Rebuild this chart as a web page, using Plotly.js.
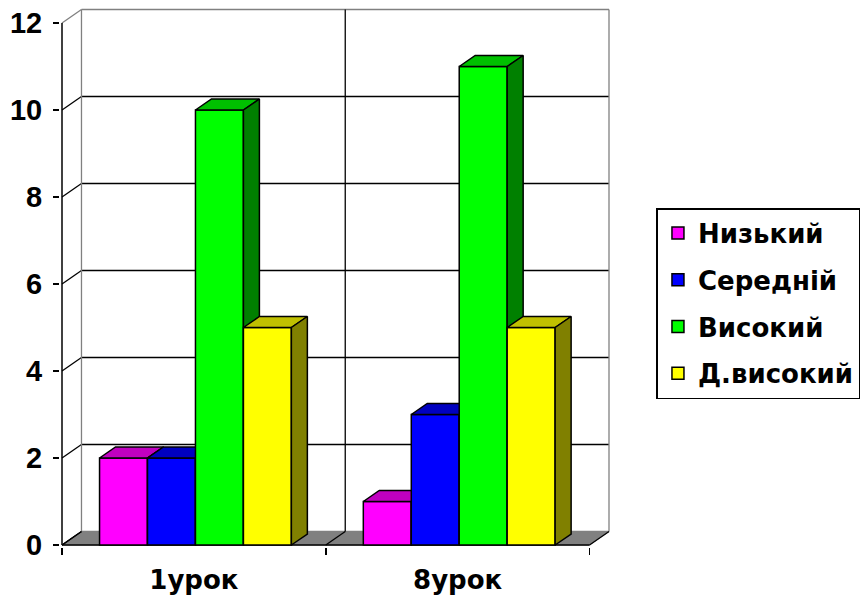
<!DOCTYPE html>
<html><head><meta charset="utf-8">
<script src="https://cdn.plot.ly/plotly-3.0.1.min.js"></script>
<style>html,body{margin:0;padding:0;background:#fff}#chart{width:865px;height:601px}</style>
</head><body><div id="chart"></div>
<script>
// ---- data ----
const categories = ['1урок', '8урок'];
const seriesNames = ['Низький', 'Середній', 'Високий', 'Д.високий'];
const nyzkyi = [2, 1];
const serednii = [2, 3];
const vysokyi = [10, 11];
const dVysokyi = [5, 5];
const yTicks = [0, 2, 4, 6, 8, 10, 12];

// ---- style ----
const frontColors = ['#FF00FF', '#0000FF', '#00FF00', '#FFFF00'];
const topColors   = ['#C000C0', '#0000C0', '#00C000', '#C0C000'];
const sideColors  = ['#800080', '#000080', '#008000', '#808000'];
const values = [nyzkyi, serednii, vysokyi, dVysokyi];
const xPxPerUnit = 264, yPxPerUnit = 43.5;
const dxw = 19.5 / xPxPerUnit, dyw = 13.5 / yPxPerUnit;   // wall depth
const dxb = 16 / xPxPerUnit, dyb = 11 / yPxPerUnit;       // bar depth
const barW = 48 / xPxPerUnit;
const groupStart = -2 * barW + 0.006;
const yMax = yTicks[yTicks.length - 1];
const bounds = [-0.5, 0.5, 1.5];
const ARIAL = 'Liberation Sans, Arial, sans-serif';
const WIDE = 'DejaVu Sans, Verdana, sans-serif';

const traces = [];
values.forEach((vals, k) => {
  const off = groupStart + k * barW;
  traces.push({
    type: 'bar', name: seriesNames[k], x: [0, 1], y: vals,
    width: barW, offset: off, zorder: k, legendgroup: 'g' + k,
    marker: {color: frontColors[k], line: {color: '#000', width: 1.5}},
    hoverinfo: 'y+name'
  });
  const tx = [], ty = [], sx = [], sy = [];
  vals.forEach((v, i) => {
    const x0 = i + off, x1 = x0 + barW;
    tx.push(x0, x0 + dxb, x1 + dxb, x1, x0, null);
    ty.push(v, v + dyb, v + dyb, v, v, null);
    sx.push(x1, x1 + dxb, x1 + dxb, x1, x1, null);
    sy.push(v, v + dyb, dyb, 0, v, null);
  });
  traces.push({type: 'scatter', mode: 'lines', x: tx, y: ty, fill: 'toself', fillcolor: topColors[k],
    line: {color: '#000', width: 1.5}, showlegend: false, hoverinfo: 'skip', zorder: k, legendgroup: 'g' + k});
  traces.push({type: 'scatter', mode: 'lines', x: sx, y: sy, fill: 'toself', fillcolor: sideColors[k],
    line: {color: '#000', width: 1.5}, showlegend: false, hoverinfo: 'skip', zorder: k, legendgroup: 'g' + k});
});

// ---- walls / grid as shapes ----
const shapes = [];
const L = (x0, y0, x1, y1, c, w) => shapes.push({type: 'line', xref: 'x', yref: 'y', x0, y0, x1, y1, layer: 'below', line: {color: c, width: w || 1.3}});
// floor
shapes.push({type: 'path', xref: 'x', yref: 'y', layer: 'below',
  path: `M${bounds[0]},0 L${bounds[2]},0 L${bounds[2] + dxw},${dyw} L${bounds[0] + dxw},${dyw} Z`,
  fillcolor: '#808080', line: {color: '#808080', width: 1}});
// back wall horizontal lines + side wall diagonals
yTicks.forEach(v => {
  const edge = (v === 0 || v === yMax);
  L(bounds[0] + dxw, v + dyw, bounds[2] + dxw, v + dyw, edge ? '#808080' : '#000');
  L(bounds[0], v, bounds[0] + dxw, v + dyw, v === yMax ? '#808080' : '#000');
});
// back wall verticals & floor diagonals
bounds.forEach((b, j) => {
  const edge = (j === 0 || j === bounds.length - 1);
  L(b + dxw, dyw, b + dxw, yMax + dyw, edge ? '#808080' : '#000');
  L(b, 0, b + dxw, dyw, '#000');
});
// front axes
L(bounds[0], 0, bounds[2], 0, '#000', 1.5);
L(bounds[0], 0, bounds[0], yMax, '#000', 1.5);

const layout = {
  width: 865, height: 601,
  margin: {l: 60, r: 253.5, t: 8, b: 54, autoexpand: false},
  paper_bgcolor: '#fff', plot_bgcolor: 'rgba(0,0,0,0)',
  showlegend: true,
  barmode: 'overlay',
  xaxis: {
    range: [-0.5 - 2 / xPxPerUnit, 1.5 + 21.5 / xPxPerUnit],
    tickmode: 'array', tickvals: [0, 1], ticktext: categories,
    ticks: '', showgrid: false, zeroline: false, showline: false,
    tickfont: {family: WIDE, size: 26, color: '#000', weight: 'bold'},
    ticklabelstandoff: 15,
    minor: {tickmode: 'array', tickvals: bounds, ticks: 'outside', ticklen: 7, tickwidth: 1.5, tickcolor: '#000', showgrid: false},
    fixedrange: true
  },
  yaxis: {
    range: [-2 / yPxPerUnit, (545 - 8) / yPxPerUnit],
    tickmode: 'array', tickvals: yTicks,
    ticks: 'outside', ticklen: 6, tickwidth: 1.5, tickcolor: '#000',
    showgrid: false, zeroline: false, showline: false,
    tickfont: {family: ARIAL, size: 29, color: '#000', weight: 'bold'},
    ticklabelstandoff: 5,
    fixedrange: true
  },
  legend: {
    x: (657 - 60) / 551.5, xanchor: 'left', y: (547 - 208) / 539, yanchor: 'top',
    bordercolor: '#000', borderwidth: 1.5, bgcolor: '#fff',
    font: {family: WIDE, size: 26, color: '#000', weight: 'bold'},
    tracegroupgap: 10, traceorder: 'grouped'
  },
  shapes: shapes
};
Plotly.newPlot('chart', traces, layout, {displayModeBar: false, staticPlot: true});
</script></body></html>
